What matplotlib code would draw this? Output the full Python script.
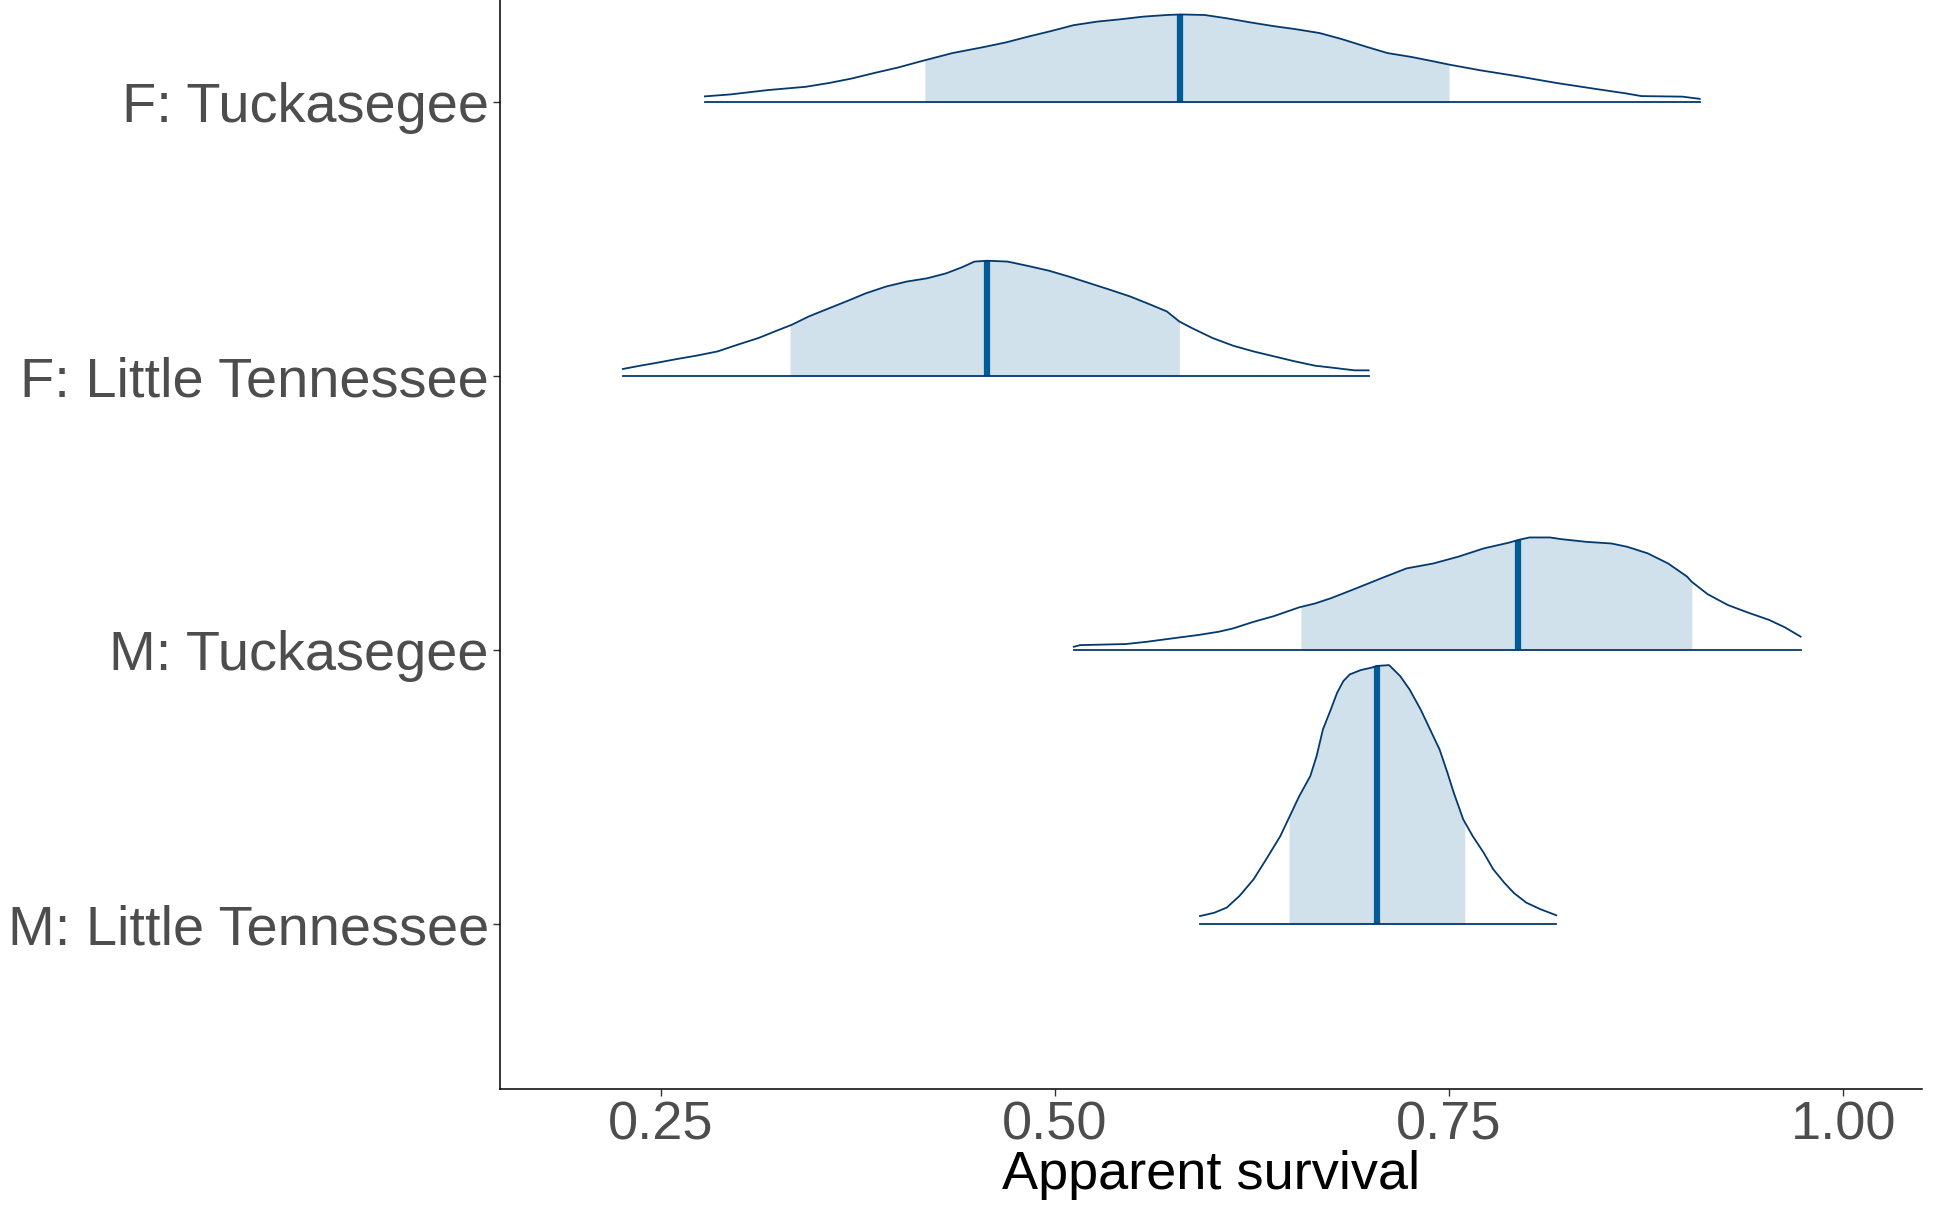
import matplotlib
matplotlib.use("Agg")
import matplotlib.pyplot as plt
import numpy as np

plt.rcParams['font.family'] = ['Liberation Sans', 'DejaVu Sans']

# parametres (de haut en bas)
labels = ["F: Tuckasegee", "F: Little Tennessee", "M: Tuckasegee", "M: Little Tennessee"]
positions = [4, 3, 2, 1]

# densites (x = survie, h = hauteur de la crete)
x_f_tuck = [0.278, 0.294, 0.318, 0.342, 0.357, 0.371, 0.386, 0.401, 0.415, 0.435,
            0.454, 0.469, 0.483, 0.498, 0.512, 0.527, 0.541, 0.556, 0.571, 0.580,
            0.595, 0.609, 0.624, 0.638, 0.653, 0.668, 0.682, 0.697, 0.711, 0.726,
            0.740, 0.750, 0.770, 0.794, 0.818, 0.842, 0.862, 0.872, 0.898, 0.909]
h_f_tuck = [0.021, 0.028, 0.044, 0.056, 0.070, 0.086, 0.107, 0.127, 0.149, 0.179,
            0.200, 0.218, 0.239, 0.260, 0.281, 0.294, 0.302, 0.312, 0.318, 0.320,
            0.318, 0.306, 0.291, 0.278, 0.266, 0.252, 0.230, 0.203, 0.179, 0.165,
            0.149, 0.137, 0.116, 0.094, 0.070, 0.049, 0.032, 0.022, 0.020, 0.012]

x_f_ltn = [0.226, 0.237, 0.247, 0.260, 0.273, 0.286, 0.299, 0.312, 0.325, 0.333,
           0.344, 0.357, 0.370, 0.380, 0.393, 0.406, 0.419, 0.431, 0.441, 0.449,
           0.457, 0.470, 0.483, 0.496, 0.509, 0.522, 0.535, 0.548, 0.561, 0.571,
           0.579, 0.587, 0.600, 0.613, 0.626, 0.639, 0.652, 0.665, 0.677, 0.690, 0.699]
h_f_ltn = [0.026, 0.038, 0.048, 0.062, 0.075, 0.090, 0.115, 0.139, 0.169, 0.187,
           0.218, 0.248, 0.278, 0.302, 0.327, 0.345, 0.357, 0.375, 0.397, 0.418,
           0.421, 0.418, 0.402, 0.385, 0.363, 0.339, 0.315, 0.290, 0.260, 0.236,
           0.199, 0.175, 0.139, 0.111, 0.090, 0.072, 0.054, 0.038, 0.030, 0.021, 0.021]

x_m_tuck = [0.512, 0.516, 0.545, 0.558, 0.575, 0.591, 0.604, 0.613, 0.626, 0.639,
            0.655, 0.665, 0.675, 0.691, 0.707, 0.723, 0.740, 0.756, 0.772, 0.788,
            0.794, 0.801, 0.814, 0.821, 0.837, 0.853, 0.863, 0.876, 0.889, 0.901,
            0.904, 0.914, 0.927, 0.940, 0.953, 0.963, 0.973]
h_m_tuck = [0.012, 0.018, 0.022, 0.030, 0.043, 0.055, 0.067, 0.079, 0.103, 0.124,
            0.156, 0.170, 0.189, 0.225, 0.262, 0.298, 0.316, 0.341, 0.371, 0.392,
            0.402, 0.411, 0.411, 0.405, 0.395, 0.389, 0.377, 0.353, 0.316, 0.268,
            0.249, 0.204, 0.164, 0.136, 0.110, 0.083, 0.049]

x_m_ltn = [0.592, 0.601, 0.609, 0.617, 0.626, 0.634, 0.643, 0.649, 0.655, 0.662,
           0.666, 0.670, 0.675, 0.679, 0.683, 0.687, 0.694, 0.701, 0.704, 0.712,
           0.719, 0.725, 0.732, 0.738, 0.744, 0.749, 0.753, 0.759, 0.765, 0.772,
           0.778, 0.785, 0.791, 0.799, 0.808, 0.818]
h_m_ltn = [0.029, 0.041, 0.060, 0.102, 0.163, 0.236, 0.321, 0.394, 0.467, 0.540,
           0.613, 0.710, 0.783, 0.844, 0.887, 0.911, 0.927, 0.936, 0.942, 0.945,
           0.905, 0.856, 0.783, 0.710, 0.637, 0.552, 0.479, 0.382, 0.321, 0.260,
           0.200, 0.151, 0.114, 0.078, 0.054, 0.032]

# intervalle interieur (50%) et mediane
interval_low = [0.4175, 0.332, 0.656, 0.6485]
interval_high = [0.750, 0.579, 0.904, 0.760]
medians = [0.5796, 0.4567, 0.794, 0.704]

x_ticks = [0.25, 0.50, 0.75, 1.00]
tick_labels = ["0.25", "0.50", "0.75", "1.00"]

densites = [(x_f_tuck, h_f_tuck), (x_f_ltn, h_f_ltn), (x_m_tuck, h_m_tuck), (x_m_ltn, h_m_ltn)]

couleur_claire = "#d1e1ec"
couleur_mediane = "#005b96"
couleur_contour = "#03396c"

fig = plt.figure(figsize=(19.34, 12.05), dpi=100)
ax = fig.add_axes([0.2585, 0.0963, 0.7353, 0.944])

for i, (xs, hs) in enumerate(densites):
    xs = np.array(xs)
    hs = np.array(hs)
    base = positions[i]
    # zone de l'intervalle
    masque = (xs >= interval_low[i]) & (xs <= interval_high[i])
    xi = np.concatenate([[interval_low[i]], xs[masque], [interval_high[i]]])
    hi = np.interp(xi, xs, hs)
    ax.fill_between(xi, base, base + hi, color=couleur_claire, linewidth=0, zorder=1)
    # mediane
    hm = np.interp(medians[i], xs, hs)
    ax.plot([medians[i], medians[i]], [base, base + hm], color=couleur_mediane,
            linewidth=4.5, solid_capstyle='butt', zorder=2)
    # contour + ligne de base
    ax.plot(xs, base + hs, color=couleur_contour, linewidth=1.3, zorder=3)
    ax.plot([xs[0], xs[-1]], [base, base], color=couleur_contour, linewidth=1.3, zorder=3)

ax.set_xlim(0.148, 1.050)
ax.set_ylim(0.398, 4.55)
ax.set_xticks(x_ticks)
ax.set_xticklabels(tick_labels)
ax.set_yticks(positions)
ax.set_yticklabels(labels)

for cote in ['top', 'right']:
    ax.spines[cote].set_visible(False)
for cote in ['left', 'bottom']:
    ax.spines[cote].set_linewidth(1.1)
    ax.spines[cote].set_color('black')

ax.tick_params(axis='both', colors='#333333', labelcolor='#4d4d4d',
               length=5, width=1.0, pad=3)
ax.tick_params(axis='x', labelsize=39)
ax.tick_params(axis='y', labelsize=40.3)
ax.set_xlabel("Apparent survival", fontsize=39, color='black', labelpad=0)

fig.savefig("out.png", dpi=100)
